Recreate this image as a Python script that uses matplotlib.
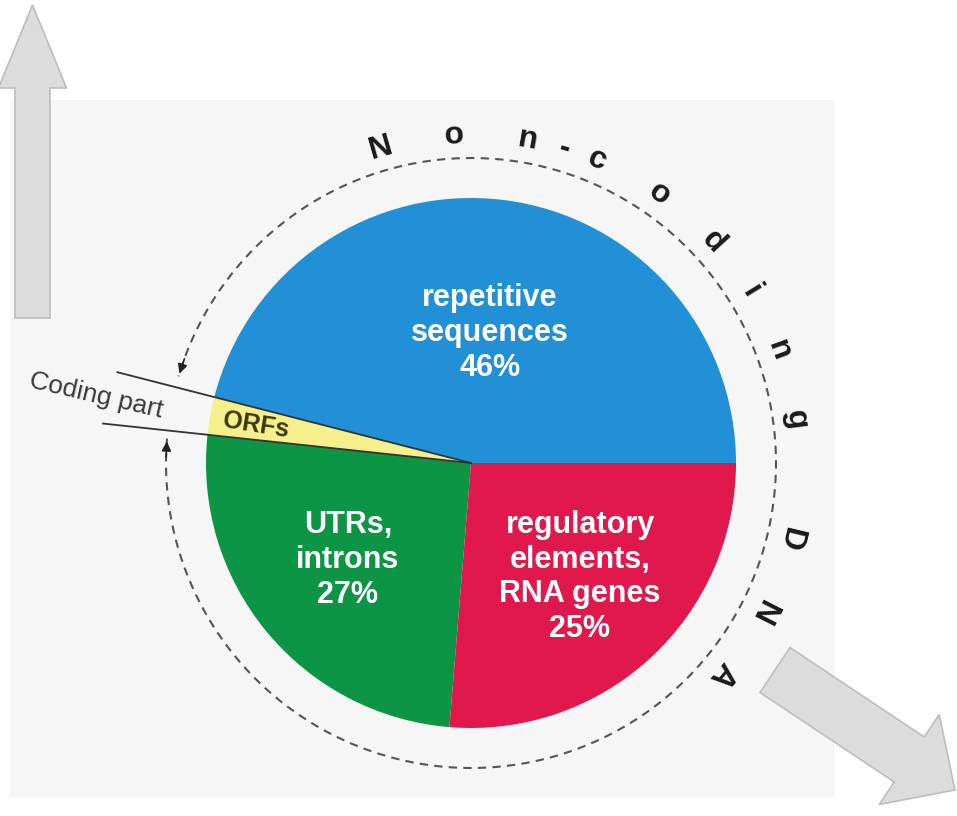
import numpy as np
import matplotlib
matplotlib.use("Agg")
import matplotlib.pyplot as plt
from matplotlib.patches import Rectangle, FancyArrow

# genome composition (slice sizes as drawn, labels as printed)
parts = ["repetitive\nsequences", "ORFs", "UTRs,\nintrons", "regulatory\nelements,\nRNA genes"]
shares = [46, 2.3, 25.4, 26.3]
pct_labels = ["46%", "", "27%", "25%"]
colors = ["#2290d6", "#f6f08c", "#0c9545", "#e0184b"]

ring_title = "Non-coding DNA"
ring_angles = [106, 93, 80, 73.5, 67.5, 55, 42.5, 31.5, 20, 7.5, -3, -13.5, -27, -40]

W, H = 957, 816
plt.rcParams["font.family"] = ["Liberation Sans", "DejaVu Sans"]

fig = plt.figure(figsize=(W / 100, H / 100), dpi=100)
ax = fig.add_axes([0, 0, 1, 1])


def py(y):
    # convert picture row to data y
    return H - y


cx, cy, r = 471, py(463), 265

ax.add_patch(Rectangle((10, py(797)), 825, 697, facecolor="#f6f6f6", edgecolor="none", zorder=0))

# grey arrows
ax.add_patch(FancyArrow(32.5, py(318), 0, 313, width=35, head_width=68, head_length=83,
                        length_includes_head=True, facecolor="#dcdcdc", edgecolor="#bdbdbd", lw=1.2, zorder=1))
ax.add_patch(FancyArrow(775, py(670), 180, -120, width=54, head_width=108, head_length=55,
                        length_includes_head=True, facecolor="#dcdcdc", edgecolor="#bdbdbd", lw=1.2, zorder=1))

wedges, _ = ax.pie(shares, colors=colors, startangle=0, counterclock=True, center=(cx, cy),
                   radius=r, wedgeprops=dict(edgecolor="none"))

# slice labels
label_pos = [(490, 333), None, (348, 560), (580, 577)]
for name, pct, pos in zip(parts, pct_labels, label_pos):
    if pos is None:
        continue
    ax.text(pos[0], py(pos[1]), name + "\n" + pct, color="white", fontsize=22, fontweight="bold",
            ha="center", va="center", linespacing=1.2, zorder=5)

ax.text(256, py(425), "ORFs", color="#3a3810", fontsize=18, fontweight="bold", rotation=-9,
        ha="center", va="center", zorder=5)

# coding part lines (extend the ORF wedge edges outward)
theta1 = np.radians(shares[0] / 100 * 360)
theta2 = np.radians((shares[0] + shares[1]) / 100 * 360)
for th, rr in [(theta1, 365), (theta2, 370)]:
    ax.plot([cx, cx + rr * np.cos(th)], [cy, cy + rr * np.sin(th)], color="#333333", lw=1.3, zorder=4)
ax.text(96, py(396), "Coding part", color="#3a3a3a", fontsize=19, rotation=-13,
        ha="center", va="center", zorder=5)

# dashed ring with arrowheads
R = 305
a0, a1 = 175.4, 163.5 + 360
t = np.radians(np.linspace(a0, a1, 400))
ax.plot(cx + R * np.cos(t), cy + R * np.sin(t), color="#555555", lw=1.5, ls=(0, (4, 3)), zorder=3)
for a_end, a_from in [(a1, a1 - 4), (a0, a0 + 4)]:
    e = np.radians(a_end)
    f = np.radians(a_from)
    ax.annotate("", xy=(cx + R * np.cos(e), cy + R * np.sin(e)),
                xytext=(cx + R * np.cos(f), cy + R * np.sin(f)),
                arrowprops=dict(arrowstyle="-|>", color="#222222", lw=1.2, mutation_scale=14), zorder=4)

# curved title
Rt = 328
for ch, ang in zip(ring_title, ring_angles):
    if ch == " ":
        continue
    a = np.radians(ang)
    ax.text(cx + Rt * np.cos(a), cy + Rt * np.sin(a), ch, rotation=ang - 90, rotation_mode="anchor",
            ha="center", va="center", fontsize=23, fontweight="bold", color="#1a1a1a", zorder=5)

ax.set_xlim(0, W)
ax.set_ylim(0, H)
ax.set_aspect("equal")
ax.axis("off")

fig.savefig("out.png", dpi=100, facecolor="white")
